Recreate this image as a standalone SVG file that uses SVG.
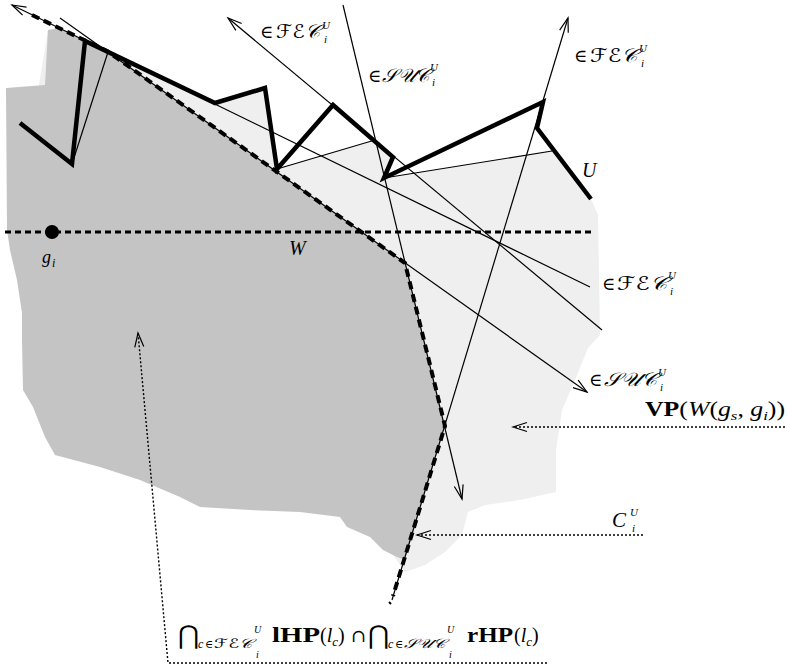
<svg xmlns="http://www.w3.org/2000/svg" width="787" height="668" viewBox="0 0 787 668">
<defs>
<style>
.thin{stroke:#000;stroke-width:1.2;fill:none}
.thick{stroke:#000;stroke-width:4.5;fill:none;stroke-linejoin:miter;stroke-miterlimit:10}
.wdash{stroke:#000;stroke-width:4;stroke-dasharray:8 5;fill:none}
.hdash{stroke:#000;stroke-width:3;stroke-dasharray:6 4;fill:none}
.dot{stroke:#000;stroke-width:1.4;stroke-dasharray:2 2;fill:none}
.t{font-family:"Liberation Serif","DejaVu Serif",serif;fill:#000}
.it{font-style:italic}
.b{font-weight:bold}
.cal{font-family:"DejaVu Serif","DejaVu Sans",serif;font-style:italic;fill:#000}
.sym{font-family:"DejaVu Serif","DejaVu Sans",serif;fill:#000}
</style>
<marker id="ah" markerUnits="userSpaceOnUse" viewBox="-16 -7 18 14" markerWidth="18" markerHeight="14" refX="0" refY="0" orient="auto" overflow="visible">
<path d="M-14,-4.5 L0,0 L-14,4.5" fill="none" stroke="#000" stroke-width="1.2"/>
</marker>
</defs>
<rect width="787" height="668" fill="#fff"/>
<g id="regions">
<path id="vp" fill="#efefef" d="M59,28 L215,104 L265,88 L277,169 L375,140 L393,157 L384,178 L552,151 L591,199 L598,215 L600,335 L588,348 L575,380 L562,410 L556,450 L556,492 L520,500 L485,505 L468,512 L462,535 L445,552 L425,565 L405,572 L340,480 L20,200 L48,30 Z"/>
<path id="dark" fill="#c4c4c4" d="M48,30 L59,28 L107,51 L405,263 L445,426 L405,560 L397,557 L383,550 L370,537 L347,527 L340,517 L300,512 L250,510 L200,507 L180,497 L140,480 L100,467 L55,455 L45,437 L33,407 L23,390 L22,340 L22,313 L17,280 L10,250 L7,230 L6,88 L45,85 Z"/>
</g>
<g id="connectors">
<line class="thin" x1="590" y1="287" x2="12" y2="5" marker-end="url(#ah)"/>
<line class="thin" x1="602" y1="330" x2="228" y2="18" marker-end="url(#ah)"/>
<line class="thin" x1="60" y1="18" x2="587" y2="392" marker-end="url(#ah)"/>
<line class="thin" x1="343" y1="5" x2="462" y2="499" marker-end="url(#ah)"/>
<line class="thin" x1="392" y1="600" x2="568" y2="18" marker-end="url(#ah)"/>
<line class="thin" x1="72" y1="164" x2="108" y2="52"/>
<line class="thin" x1="277" y1="169" x2="375" y2="140"/>
<line class="thin" x1="384" y1="178" x2="552" y2="151"/>
<line class="hdash" x1="5" y1="232" x2="595" y2="232"/>
<path class="wdash" d="M32,15 L107,51 L405,263 L445,426 L393,596"/>
<line x1="389" y1="602" x2="391" y2="604" stroke="#000" stroke-width="2"/>
<path id="U" class="thick" d="M20,123 L72,164 L85,41 L215,103 L265,88 L277,169 L333,105 L393,157 L384,178 L543,102 L537,128 L591,199"/>
<line class="dot" x1="785" y1="427" x2="513" y2="427" marker-end="url(#ah)"/>
<line class="dot" x1="643" y1="535" x2="417" y2="535" marker-end="url(#ah)"/>
<path class="dot" d="M547,663 L168,663 L138,333" marker-end="url(#ah)"/>
</g>
<circle id="gi" cx="52" cy="232" r="7" fill="#000"/>
<g id="labels">
<text class="sym" x="260" y="38" font-size="18">∈</text>
<text class="cal" x="276" y="38" font-size="19" textLength="44" lengthAdjust="spacingAndGlyphs">ℱℰ𝒞</text>
<text class="t it" x="322" y="29" font-size="11">U</text>
<text class="t it" x="324" y="43" font-size="11">i</text>

<text class="sym" x="368" y="82" font-size="18">∈</text>
<text class="cal" x="382" y="82" font-size="19" textLength="48" lengthAdjust="spacingAndGlyphs">𝒮𝒰𝒞</text>
<text class="t it" x="430" y="71" font-size="11">U</text>
<text class="t it" x="432" y="86" font-size="11">i</text>

<text class="sym" x="574" y="62" font-size="18">∈</text>
<text class="cal" x="590" y="62" font-size="19" textLength="48" lengthAdjust="spacingAndGlyphs">ℱℰ𝒞</text>
<text class="t it" x="639" y="52" font-size="11">U</text>
<text class="t it" x="641" y="67" font-size="11">i</text>

<text class="sym" x="602" y="290" font-size="18">∈</text>
<text class="cal" x="617" y="290" font-size="19" textLength="50" lengthAdjust="spacingAndGlyphs">ℱℰ𝒞</text>
<text class="t it" x="668" y="279" font-size="11">U</text>
<text class="t it" x="670" y="295" font-size="11">i</text>

<text class="sym" x="589" y="386" font-size="18">∈</text>
<text class="cal" x="604" y="386" font-size="19" textLength="53" lengthAdjust="spacingAndGlyphs">𝒮𝒰𝒞</text>
<text class="t it" x="658" y="376" font-size="11">U</text>
<text class="t it" x="660" y="391" font-size="11">i</text>

<text class="t" x="645" y="416" font-size="20" textLength="140" lengthAdjust="spacingAndGlyphs"><tspan class="b">VP</tspan>(<tspan class="it">W</tspan>(<tspan class="it">g</tspan><tspan class="it" font-size="13" dy="4">s</tspan><tspan dy="-4">, </tspan><tspan class="it">g</tspan><tspan class="it" font-size="13" dy="4">i</tspan><tspan dy="-4">))</tspan></text>

<text class="t it" x="612" y="527" font-size="21">C</text>
<text class="t it" x="630" y="516" font-size="11">U</text>
<text class="t it" x="632" y="532" font-size="11">i</text>

<text class="t it" x="289" y="255" font-size="20">W</text>
<text class="t it" x="42" y="263" font-size="18">g</text>
<text class="t it" x="52" y="267" font-size="12">i</text>
<text class="t it" x="582" y="177" font-size="20">U</text>

<text class="sym" x="178" y="644" font-size="26">⋂</text>
<text class="t it" x="198" y="648" font-size="12">c</text>
<text class="sym" x="205" y="648" font-size="11">∈</text>
<text class="cal" x="214" y="648" font-size="13" textLength="38" lengthAdjust="spacingAndGlyphs">ℱℰ𝒞</text>
<text class="t it" x="254" y="633" font-size="10">U</text>
<text class="t it" x="256" y="658" font-size="10">i</text>
<text class="t b" x="272" y="642" font-size="20" textLength="48" lengthAdjust="spacingAndGlyphs">lHP</text>
<text class="t" x="320" y="642" font-size="20">(<tspan class="it">l</tspan><tspan class="it" font-size="13" dy="4">c</tspan><tspan dy="-4">)</tspan></text>
<text class="sym" x="351" y="642" font-size="18">∩</text>
<text class="sym" x="368" y="644" font-size="26">⋂</text>
<text class="t it" x="388" y="648" font-size="12">c</text>
<text class="sym" x="395" y="648" font-size="11">∈</text>
<text class="cal" x="404" y="648" font-size="13" textLength="41" lengthAdjust="spacingAndGlyphs">𝒮𝒰𝒞</text>
<text class="t it" x="447" y="633" font-size="10">U</text>
<text class="t it" x="449" y="658" font-size="10">i</text>
<text class="t b" x="467" y="642" font-size="20" textLength="46" lengthAdjust="spacingAndGlyphs">rHP</text>
<text class="t" x="514" y="642" font-size="20">(<tspan class="it">l</tspan><tspan class="it" font-size="13" dy="4">c</tspan><tspan dy="-4">)</tspan></text>
</g>
</svg>
